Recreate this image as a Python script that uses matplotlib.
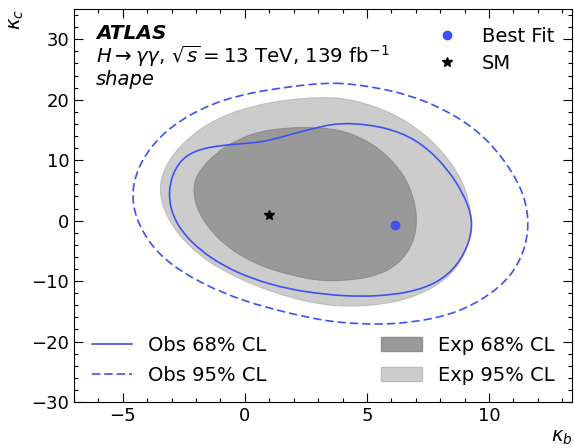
import numpy as np
import matplotlib
matplotlib.use("Agg")
import matplotlib.pyplot as plt
from matplotlib.path import Path
from matplotlib.patches import PathPatch, Patch
from matplotlib.lines import Line2D
from matplotlib.ticker import MultipleLocator

# ---- data ----
best_fit = (6.13, -0.8)
sm_point = (1.0, 1.0)

obs95_x = [3.70, 4.65, 6.02, 7.38, 8.74, 9.84, 10.79, 11.40, 11.64, 11.54, 11.06, 10.25, 9.02, 7.66, 6.02, 4.65,
           3.40, 1.73, -0.05, -1.69, -3.05, -3.87, -4.41, -4.61, -4.57, -4.20, -3.46, -2.36, -1.00, 0.36, 1.73, 2.80]
obs95_y = [22.80, 22.47, 21.53, 19.88, 17.13, 13.84, 9.18, 4.78, 0.40, -4.00, -8.40, -11.70, -14.71, -16.36, -17.18, -17.07,
           -16.70, -15.26, -13.34, -10.59, -7.30, -4.00, -0.16, 3.13, 6.43, 10.28, 14.12, 17.41, 19.89, 21.25, 22.08, 22.6]

obs68_x = [3.50, 4.38, 5.75, 6.97, 7.93, 8.68, 9.15, 9.33, 9.22, 8.74, 7.93, 6.70, 5.34, 4.11, 2.40, 1.04,
           -0.32, -1.41, -2.23, -2.77, -3.05, -3.12, -2.98, -2.64, -2.09, -1.41, -0.59, 0.36, 1.04, 1.73, 2.54]
obs68_y = [15.95, 16.15, 15.49, 13.57, 10.28, 6.43, 2.59, -0.16, -3.46, -7.30, -10.31, -11.96, -12.52, -12.52, -11.80, -10.59,
           -8.67, -6.19, -3.46, -0.71, 2.04, 4.78, 7.53, 10.00, 11.48, 12.19, 12.59, 12.85, 13.29, 14.12, 14.94]

exp95_x = [3.70, 4.65, 6.02, 7.38, 8.34, 9.02, 9.29, 9.22, 8.74, 7.79, 6.43, 4.93, 3.70, 2.40, 1.04, -0.32,
           -1.55, -2.50, -3.18, -3.46, -3.48, -3.18, -2.50, -1.55, -0.32, 1.04, 2.40]
exp95_y = [20.43, 19.72, 17.96, 14.40, 10.28, 5.88, 0.94, -3.46, -7.84, -11.14, -13.34, -14.17, -14.17, -13.34, -11.70, -9.49,
           -6.75, -3.46, 0.40, 3.69, 6.43, 9.72, 13.01, 16.05, 18.24, 19.60, 20.26]

exp68_x = [3.60, 4.38, 5.34, 6.16, 6.77, 7.08, 6.97, 6.56, 5.75, 4.65, 3.29, 2.40, 1.04, -0.05, -1.00, -1.69,
           -2.02, -2.12, -1.98, -1.55, -0.87, 0.09, 1.04, 2.40]
exp68_y = [15.22, 14.40, 12.47, 9.46, 5.88, 0.94, -2.90, -6.19, -8.67, -9.77, -10.05, -9.49, -8.12, -6.19, -3.46, -0.16,
           2.59, 5.34, 7.53, 9.72, 12.19, 14.12, 15.11, 15.49]

xlim = (-7, 13.4)
ylim = (-30, 35)

BLUE = '#3d52f2'
DARK = '#999999'
LIGHT = '#cccccc'


def closed_smooth_path(xs, ys):
    """Closed uniform cubic B-spline with the read points as control points, drawn as Bezier segments."""
    pts = np.column_stack([xs, ys]).astype(float)
    n = len(pts)
    start = (pts[-1] + 4 * pts[0] + pts[1]) / 6.0
    verts = [start]
    codes = [Path.MOVETO]
    for i in range(n):
        p0, p1, p2 = pts[i], pts[(i + 1) % n], pts[(i + 2) % n]
        b1 = (2 * p0 + p1) / 3.0
        b2 = (p0 + 2 * p1) / 3.0
        b3 = (p0 + 4 * p1 + p2) / 6.0
        verts += [b1, b2, b3]
        codes += [Path.CURVE4] * 3
    verts.append(start)
    codes.append(Path.CLOSEPOLY)
    return Path(verts, codes)


fig = plt.figure(figsize=(5.74, 4.48), dpi=100)
ax = fig.add_axes([74 / 574, (448 - 402) / 448, (572 - 74) / 574, (402 - 9) / 448])

DASH = (0, (5, 2.4))
ax.add_patch(PathPatch(closed_smooth_path(exp95_x, exp95_y), facecolor=LIGHT, edgecolor='#bdbdbd', lw=0.8, zorder=1))
ax.add_patch(PathPatch(closed_smooth_path(exp68_x, exp68_y), facecolor=DARK, edgecolor='#8e8e8e', lw=0.8, zorder=2))
ax.add_patch(PathPatch(closed_smooth_path(obs68_x, obs68_y), facecolor='none', edgecolor=BLUE, lw=1.2, zorder=3))
ax.add_patch(PathPatch(closed_smooth_path(obs95_x, obs95_y), facecolor='none', edgecolor=BLUE, lw=1.2,
                       linestyle=DASH, zorder=3))

ax.plot([best_fit[0]], [best_fit[1]], 'o', color=BLUE, ms=6, zorder=5)
ax.plot([sm_point[0]], [sm_point[1]], '*', color='black', ms=7, zorder=5)

ax.set_xlim(*xlim)
ax.set_ylim(*ylim)
ax.xaxis.set_major_locator(MultipleLocator(5))
ax.xaxis.set_minor_locator(MultipleLocator(1))
ax.yaxis.set_major_locator(MultipleLocator(10))
ax.yaxis.set_minor_locator(MultipleLocator(2))
ax.tick_params(which='both', direction='in', top=True, right=True, labelsize=13)
ax.tick_params(which='major', length=6.5, width=0.8)
ax.tick_params(which='minor', length=3.2, width=0.8)

ax.set_xlabel(r'$\kappa_b$', fontsize=14, loc='right')
ax.set_ylabel(r'$\kappa_c$', fontsize=14, loc='top')
ax.xaxis.set_label_coords(1.0, -0.066)
ax.yaxis.set_label_coords(-0.097, 1.0)

ax.text(0.044, 0.924, 'ATLAS', transform=ax.transAxes, fontsize=14.5, fontweight='bold', fontstyle='italic',
        va='baseline', ha='left')
ax.text(0.044, 0.863, r'$H\rightarrow\gamma\gamma$, $\sqrt{s}=13$ TeV, 139 fb$^{-1}$', transform=ax.transAxes,
        fontsize=14.2, va='baseline', ha='left')
ax.text(0.044, 0.807, 'shape', transform=ax.transAxes, fontsize=14, fontstyle='italic', va='baseline', ha='left')

h_pts = [Line2D([], [], marker='o', color=BLUE, ls='none', ms=6),
         Line2D([], [], marker='*', color='black', ls='none', ms=7)]
leg1 = ax.legend(h_pts, ['Best Fit', 'SM'], loc='upper right', frameon=False, fontsize=14,
                 labelspacing=0.45, handlelength=2.0)
ax.add_artist(leg1)

h_obs = [Line2D([], [], color=BLUE, lw=1.2), Line2D([], [], color=BLUE, lw=1.2, ls=DASH)]
leg2 = ax.legend(h_obs, ['Obs 68% CL', 'Obs 95% CL'], loc='lower left', frameon=False, fontsize=14,
                 labelspacing=0.55, handlelength=2.1)
ax.add_artist(leg2)

h_exp = [Patch(facecolor=DARK, edgecolor='#8e8e8e'), Patch(facecolor=LIGHT, edgecolor='#bdbdbd')]
leg3 = ax.legend(h_exp, ['Exp 68% CL', 'Exp 95% CL'], loc='lower right', frameon=False, fontsize=14,
                 labelspacing=0.55, handlelength=2.1)

fig.savefig('out.png', dpi=100)
